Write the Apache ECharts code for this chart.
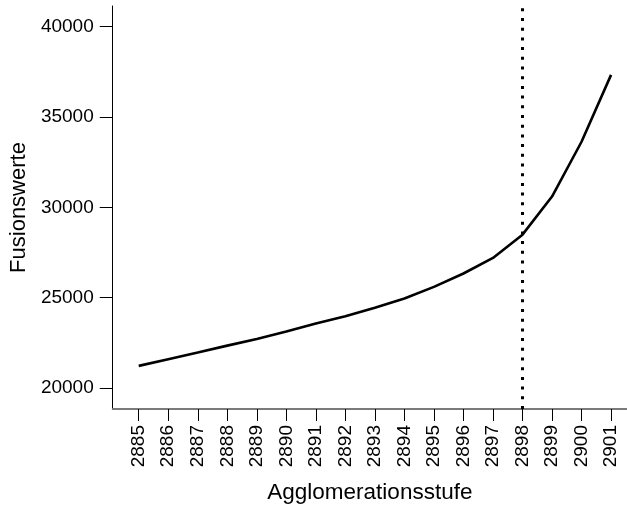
<!DOCTYPE html>
<html>
<head>
<meta charset="utf-8">
<script src="https://cdn.jsdelivr.net/npm/echarts@6/dist/echarts.min.js"></script>
<style>
html, body { margin: 0; padding: 0; background: #fff; }
#chart { width: 627px; height: 509px; }
</style>
</head>
<body>
<div id="chart"></div>
<script>
// Agglomerationsstufen und Fusionswerte
var stufen = [2885, 2886, 2887, 2888, 2889, 2890, 2891, 2892, 2893,
	2894, 2895, 2896, 2897, 2898, 2899, 2900, 2901];
var werte = [21230, 21600, 21970, 22350, 22720, 23130, 23580, 23970, 24450,
	24960, 25600, 26340, 27200, 28490, 30600, 33630, 37330];
var yTicks = [20000, 25000, 30000, 35000, 40000];
var schnitt = 2898;

var punkte = new Array();
for (var i = 0; i < stufen.length; i++) {
	punkte[i] = [stufen[i], werte[i]];
}

var font = '"Liberation Sans", Arial, sans-serif';
var chart = echarts.init(document.getElementById('chart'));

var option = {
	animation : false,
	backgroundColor : '#fff',
	grid : {
		left : 111,
		right : 0,
		top : 6,
		bottom : 98
	},
	xAxis : {
		type : 'value',
		min : 2884.12,
		max : 2901.54,
		name : 'Agglomerationsstufe',
		nameLocation : 'middle',
		nameGap : 72,
		nameTextStyle : {
			fontFamily : font,
			fontSize : 22.5,
			color : '#000'
		},
		splitLine : { show : false },
		axisLine : {
			onZero : false,
			lineStyle : { color : '#7a7a7a', width : 2 }
		},
		axisTick : {
			length : 12,
			customValues : stufen,
			lineStyle : { color : '#000', width : 1 }
		},
		axisLabel : {
			rotate : 90,
			margin : 16,
			customValues : stufen,
			formatter : function(v) { return String(v); },
			fontFamily : font,
			fontSize : 19,
			color : '#000'
		}
	},
	yAxis : {
		type : 'value',
		min : 18844,
		max : 41140,
		name : 'Fusionswerte',
		nameLocation : 'middle',
		nameGap : 82,
		nameTextStyle : {
			fontFamily : font,
			fontSize : 22,
			color : '#000'
		},
		splitLine : { show : false },
		axisLine : {
			show : true,
			onZero : false,
			lineStyle : { color : '#000', width : 1 }
		},
		axisTick : {
			show : true,
			length : 13,
			customValues : yTicks,
			lineStyle : { color : '#000', width : 1 }
		},
		axisLabel : {
			margin : 19,
			customValues : yTicks,
			formatter : function(v) { return String(v); },
			fontFamily : font,
			fontSize : 19,
			color : '#000'
		}
	},
	series : [ {
		type : 'line',
		data : punkte,
		symbol : 'none',
		lineStyle : { color : '#000', width : 2.6 },
		markLine : {
			silent : true,
			symbol : 'none',
			label : { show : false },
			lineStyle : {
				color : '#000',
				width : 3,
				type : [3, 6.7]
			},
			data : [ { xAxis : schnitt } ]
		}
	} ]
};
chart.setOption(option);
</script>
</body>
</html>
